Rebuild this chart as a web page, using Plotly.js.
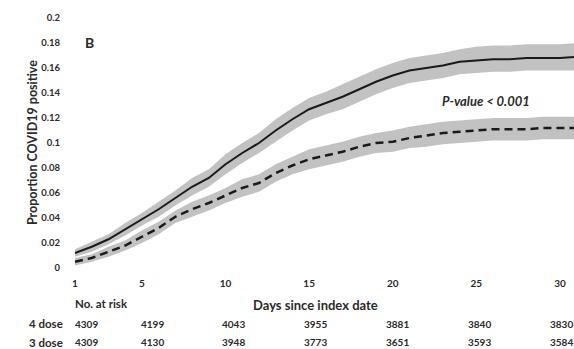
<!DOCTYPE html>
<html>
<head>
<meta charset="utf-8">
<script src="https://cdn.plot.ly/plotly-3.0.1.min.js"></script>
<style>html,body{margin:0;padding:0;background:#fff}#chart{width:574px;height:349px}</style>
</head>
<body>
<div id="chart"></div>
<script>
// Days since index date
const days = [1,2,3,4,5,6,7,8,9,10,11,12,13,14,15,16,17,18,19,20,21,22,23,24,25,26,27,28,29,30,31];

// Solid line (4 dose) cumulative proportion and confidence band
const solidMean  = [0.012,0.017,0.023,0.031,0.039,0.047,0.056,0.065,0.072,0.083,0.092,0.100,0.110,0.119,0.127,0.132,0.137,0.143,0.149,0.154,0.158,0.160,0.162,0.165,0.166,0.167,0.167,0.168,0.168,0.168,0.169];
const solidUpper = [0.015,0.021,0.027,0.036,0.044,0.053,0.062,0.072,0.079,0.091,0.100,0.108,0.119,0.128,0.136,0.141,0.147,0.153,0.159,0.164,0.168,0.170,0.172,0.175,0.177,0.178,0.178,0.179,0.179,0.179,0.180];
const solidLower = [0.009,0.013,0.019,0.026,0.034,0.041,0.050,0.058,0.065,0.075,0.084,0.092,0.101,0.110,0.118,0.123,0.127,0.133,0.139,0.144,0.148,0.150,0.152,0.155,0.156,0.157,0.157,0.158,0.158,0.158,0.158];

// Dashed line (3 dose) cumulative proportion and confidence band
const dashMean  = [0.005,0.008,0.013,0.018,0.025,0.032,0.041,0.047,0.052,0.058,0.064,0.068,0.076,0.082,0.087,0.090,0.093,0.097,0.100,0.101,0.104,0.106,0.108,0.109,0.110,0.111,0.111,0.111,0.112,0.112,0.112];
const dashUpper = [0.008,0.011,0.017,0.022,0.030,0.037,0.046,0.053,0.058,0.064,0.071,0.075,0.083,0.089,0.095,0.098,0.101,0.105,0.108,0.110,0.113,0.115,0.117,0.118,0.119,0.120,0.120,0.120,0.121,0.121,0.121];
const dashLower = [0.002,0.005,0.009,0.014,0.020,0.027,0.036,0.041,0.046,0.052,0.057,0.061,0.069,0.075,0.079,0.082,0.085,0.089,0.092,0.093,0.096,0.097,0.099,0.100,0.101,0.102,0.102,0.102,0.103,0.103,0.103];

// Axis ticks
const xTicks = [1,5,10,15,20,25,30];
const yTicks = [0,0.02,0.04,0.06,0.08,0.1,0.12,0.14,0.16,0.18,0.2];
const yTickText = ['0','0.02','0.04','0.06','0.08','0.1','0.12','0.14','0.16','0.18','0.2'];

// Number at risk table
const riskDays = [1,5,10,15,20,25,30];
const risk4 = [4309,4199,4043,3955,3881,3840,3830];
const risk3 = [4309,4130,3948,3773,3651,3593,3584];

const FONT = 'Lato, "Open Sans", sans-serif';
const TXT = '#2a2a2a';
const BAND = '#c2c2c2';

const traces = [
  {x: days, y: solidLower, mode:'lines', line:{width:0, color:BAND}, hoverinfo:'skip', showlegend:false},
  {x: days, y: solidUpper, mode:'lines', line:{width:0, color:BAND}, fill:'tonexty', fillcolor:BAND, hoverinfo:'skip', showlegend:false},
  {x: days, y: dashLower, mode:'lines', line:{width:0, color:BAND}, hoverinfo:'skip', showlegend:false},
  {x: days, y: dashUpper, mode:'lines', line:{width:0, color:BAND}, fill:'tonexty', fillcolor:BAND, hoverinfo:'skip', showlegend:false},
  {x: days, y: solidMean, mode:'lines', name:'4 dose', line:{color:'#1a1a1a', width:2}, showlegend:false},
  {x: days, y: dashMean, mode:'lines', name:'3 dose', line:{color:'#1a1a1a', width:2.5, dash:'8px,5px'}, showlegend:false}
];

const ann = [
  {xref:'paper', yref:'paper', x:0.03, y:0.9, text:'<b>B</b>', showarrow:false, xanchor:'left', yanchor:'middle', font:{family:FONT, size:14, color:TXT}},
  {xref:'x', yref:'y', x:22.8, y:0.134, text:'<b><i>P-value < 0.001</i></b>', showarrow:false, xanchor:'left', yanchor:'middle', font:{family:FONT, size:13, color:TXT}},
  {xref:'paper', yref:'paper', x:-0.071, y:0.5, text:'<b>Proportion COVID19 positive</b>', textangle:-90, showarrow:false, xanchor:'center', yanchor:'middle', font:{family:FONT, size:12.5, color:TXT}},
  {xref:'paper', yref:'paper', x:0.49, y:-0.148, text:'<b>Days since index date</b>', showarrow:false, xanchor:'center', yanchor:'middle', font:{family:FONT, size:13, color:TXT}},
  {xref:'x2', yref:'paper', x:1, y:-0.142, text:'<b>No. at risk</b>', showarrow:false, xanchor:'left', yanchor:'middle', font:{family:FONT, size:11.5, color:TXT}},
  {xref:'paper', yref:'paper', x:-0.081, y:-0.222, text:'<b>4 dose</b>', showarrow:false, xanchor:'left', yanchor:'middle', font:{family:FONT, size:11.5, color:TXT}},
  {xref:'paper', yref:'paper', x:-0.081, y:-0.297, text:'<b>3 dose</b>', showarrow:false, xanchor:'left', yanchor:'middle', font:{family:FONT, size:11.5, color:TXT}}
];
riskDays.forEach((d,i) => {
  ann.push({xref:'x2', yref:'paper', x:d, y:-0.222, text:'<b>'+risk4[i]+'</b>', showarrow:false, xanchor:'left', yanchor:'middle', font:{family:FONT, size:10, color:TXT}});
  ann.push({xref:'x2', yref:'paper', x:d, y:-0.297, text:'<b>'+risk3[i]+'</b>', showarrow:false, xanchor:'left', yanchor:'middle', font:{family:FONT, size:10, color:TXT}});
});

const layout = {
  width:574, height:349,
  margin:{l:68, r:0, t:18, b:81},
  paper_bgcolor:'#fff', plot_bgcolor:'#fff',
  showlegend:false,
  xaxis:{range:[0.58,30.84], tickvals:xTicks, ticktext:xTicks.map(String), showgrid:false, zeroline:false, showline:false,
         ticks:'outside', ticklen:6, tickcolor:'rgba(0,0,0,0)', tickfont:{family:FONT, size:10, color:TXT, weight:'bold'}},
  xaxis2:{overlaying:'x', range:[0.695,31.59], visible:false},
  yaxis:{range:[0,0.2], tickvals:yTicks, ticktext:yTickText, showgrid:false, zeroline:false, showline:false,
         ticks:'outside', ticklen:5, tickcolor:'rgba(0,0,0,0)', tickfont:{family:FONT, size:9.5, color:TXT, weight:'bold'}},
  annotations: ann
};

Plotly.newPlot('chart', traces, layout, {displayModeBar:false, staticPlot:true});
</script>
</body>
</html>
